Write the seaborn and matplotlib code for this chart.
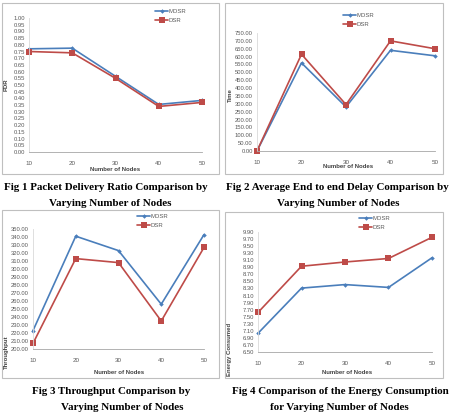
import pandas as pd
import matplotlib
matplotlib.use("Agg")
import matplotlib.pyplot as plt
from matplotlib.patches import Rectangle
import seaborn as sns

# Data
nodes = [10, 20, 30, 40, 50]
pdr_mdsr = [0.77, 0.775, 0.565, 0.355, 0.385]
pdr_dsr = [0.75, 0.74, 0.55, 0.34, 0.37]
delay_mdsr = [0.0, 560.0, 280.0, 640.0, 605.0]
delay_dsr = [0.0, 615.0, 295.0, 700.0, 650.0]
thr_mdsr = [223.0, 341.0, 323.0, 256.0, 343.0]
thr_dsr = [207.0, 313.0, 308.0, 235.0, 327.0]
energy_mdsr = [7.03, 8.31, 8.41, 8.33, 9.17]
energy_dsr = [7.62, 8.93, 9.05, 9.15, 9.75]

pdr_ticks = [i * 0.05 for i in range(21)]
delay_ticks = [i * 50.0 for i in range(16)]
thr_ticks = [200.0 + i * 10 for i in range(16)]
energy_ticks = [6.5 + i * 0.2 for i in range(18)]

W, H = 451, 413
BLUE = "#4A7EBB"
RED = "#BE4B48"

sns.set_theme(style="white")
plt.rcParams["font.family"] = ["Liberation Sans", "DejaVu Sans"]

fig = plt.figure(figsize=(W / 100, H / 100), dpi=100)


def px_rect(x0, y0, x1, y1):
    # pixel box (top-left origin) -> figure fraction [l, b, w, h]
    return [x0 / W, 1 - y1 / H, (x1 - x0) / W, (y1 - y0) / H]


def draw_chart(frame, box, mdsr, dsr, ticks, ylabel, ylab_pos, xlab_pos, leg_pos):
    fig.add_artist(Rectangle((frame[0] / W, 1 - frame[3] / H),
                             (frame[2] - frame[0]) / W, (frame[3] - frame[1]) / H,
                             transform=fig.transFigure, fill=False,
                             edgecolor="#BFBFBF", lw=0.8))
    ax = fig.add_axes(px_rect(*box))
    df = pd.DataFrame({
        "nodes": nodes * 2,
        "value": mdsr + dsr,
        "series": ["MDSR"] * 5 + ["DSR"] * 5,
    })
    sns.lineplot(data=df, x="nodes", y="value", hue="series", style="series",
                 palette={"MDSR": BLUE, "DSR": RED},
                 markers={"MDSR": "D", "DSR": "s"}, dashes=False,
                 lw=1.2, ax=ax, legend=False)
    for ln in ax.lines:
        ln.set_clip_on(False)
        if ln.get_marker() == "s":
            ln.set_markersize(3.7)
        else:
            ln.set_markersize(2.3)
        ln.set_markeredgewidth(0)

    ax.set_xlim(10, 50)
    ax.set_ylim(ticks[0], ticks[-1])
    ax.set_xticks(nodes)
    ax.set_xticklabels([str(n) for n in nodes])
    ax.set_yticks(ticks)
    ax.set_yticklabels([f"{t:.2f}" for t in ticks])
    ax.tick_params(axis="both", labelsize=4.2, colors="#595959", length=1.5,
                   width=0.5, pad=1.5)
    ax.tick_params(axis="x", pad=5, labelsize=4.5)
    ax.set_xlabel("")
    ax.set_ylabel("")
    for side in ["top", "right"]:
        ax.spines[side].set_visible(False)
    ax.spines["left"].set_color("#D9D9D9")
    ax.spines["bottom"].set_color("#A6A6A6")
    ax.spines["left"].set_linewidth(0.6)
    ax.spines["bottom"].set_linewidth(0.6)
    ax.set_facecolor("none")

    fig.text(ylab_pos[0] / W, 1 - ylab_pos[1] / H, ylabel, rotation=90,
             ha="center", va="center", fontsize=4.3, fontweight="bold",
             color="#404040")
    fig.text(xlab_pos[0] / W, 1 - xlab_pos[1] / H, "Number of Nodes",
             ha="center", va="center", fontsize=4.3, fontweight="bold",
             color="#404040")

    handles = [plt.Line2D([], [], color=BLUE, marker="D", ms=2.3, lw=1.2, mew=0),
               plt.Line2D([], [], color=RED, marker="s", ms=3.7, lw=1.2, mew=0)]
    ax.legend(handles, ["MDSR", "DSR"], loc="upper left",
              bbox_to_anchor=(leg_pos[0] / W, 1 - leg_pos[1] / H),
              bbox_transform=fig.transFigure, frameon=False, fontsize=4.3,
              handlelength=2.2, handletextpad=0.1, labelspacing=0.6,
              borderpad=0, labelcolor="#595959")
    return ax


draw_chart((2, 3, 219, 174), (29, 18, 202, 152), pdr_mdsr, pdr_dsr, pdr_ticks,
           "PDR", (6, 85), (115, 169), (152, 6))
draw_chart((225, 3, 443, 174), (257, 33, 435, 151), delay_mdsr, delay_dsr,
           delay_ticks, "Time", (230, 95), (348, 166), (340, 10))
draw_chart((2, 210, 219, 378), (33, 229, 204, 349), thr_mdsr, thr_dsr, thr_ticks,
           "Throughput", (6, 352), (119, 373), (134, 211))
draw_chart((225, 212, 443, 378), (258, 232, 432, 352), energy_mdsr, energy_dsr,
           energy_ticks, "Energy Consumed", (229, 349), (347, 373), (356, 213))

captions = [
    (106, 188, "Fig 1 Packet Delivery Ratio Comparison by"),
    (110, 203, "Varying Number of Nodes"),
    (337, 188, "Fig 2 Average End to end Delay Comparison by"),
    (338, 203, "Varying Number of Nodes"),
    (111, 392, "Fig 3 Throughput Comparison by"),
    (122, 407, "Varying Number of Nodes"),
    (340, 392, "Fig 4 Comparison of the Energy Consumption"),
    (339, 407, "for Varying Number of Nodes"),
]
for cx, cy, txt in captions:
    fig.text(cx / W, 1 - cy / H, txt, ha="center", va="center",
             fontsize=7.9, fontweight="bold", family="Liberation Serif",
             color="black")

fig.savefig("out.png", dpi=100)
